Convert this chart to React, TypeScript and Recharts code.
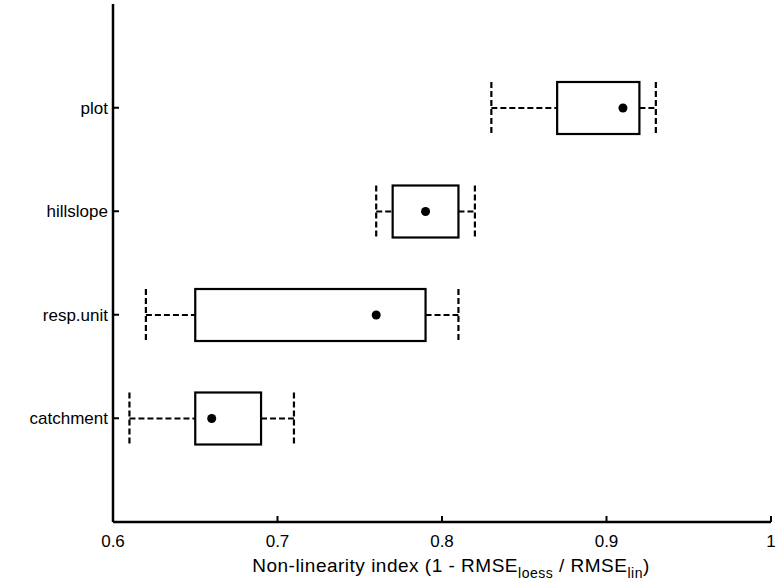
import { Bar, ComposedChart, XAxis, YAxis } from "recharts";

// Box-plot summary per scale, top to bottom.
const CATEGORIES = ["plot", "hillslope", "resp.unit", "catchment"];
const WHISKER_LOW = [0.83, 0.76, 0.62, 0.61];
const Q1 = [0.87, 0.77, 0.65, 0.65];
const MEDIAN = [0.91, 0.79, 0.76, 0.66];
const Q3 = [0.92, 0.81, 0.79, 0.69];
const WHISKER_HIGH = [0.93, 0.82, 0.81, 0.71];
const X_TICKS = [0.6, 0.7, 0.8, 0.9, 1];

const FONT = "'Liberation Sans', Arial, sans-serif";

type Row = {
  name: string;
  lo: number;
  q1: number;
  med: number;
  q3: number;
  hi: number;
};

const data: Row[] = CATEGORIES.map((name, i) => ({
  name,
  lo: WHISKER_LOW[i],
  q1: Q1[i],
  med: MEDIAN[i],
  q3: Q3[i],
  hi: WHISKER_HIGH[i],
}));

// The bar spans [lo, hi]; inner positions are interpolated on that span,
// which is linear, so it matches the x scale exactly.
function BoxShape(props: any) {
  const { x, y, width, height, payload } = props;
  const p = payload as Row;
  const left = Math.min(x, x + width);
  const w = Math.abs(width);
  const px = (v: number) => left + ((v - p.lo) / (p.hi - p.lo)) * w;
  const cy = y + height / 2;
  const dash = { stroke: "#000", strokeWidth: 2.2, strokeDasharray: "6 3" };
  return (
    <g>
      <line x1={px(p.lo)} x2={px(p.q1)} y1={cy} y2={cy} {...dash} />
      <line x1={px(p.q3)} x2={px(p.hi)} y1={cy} y2={cy} {...dash} />
      <line x1={px(p.lo)} x2={px(p.lo)} y1={y} y2={y + height} {...dash} />
      <line x1={px(p.hi)} x2={px(p.hi)} y1={y} y2={y + height} {...dash} />
      <rect
        x={px(p.q1)}
        y={y}
        width={px(p.q3) - px(p.q1)}
        height={height}
        fill="#fff"
        stroke="#000"
        strokeWidth={2.2}
      />
      <circle cx={px(p.med)} cy={cy} r={4.5} fill="#000" />
    </g>
  );
}

function XTick({ x, y, payload }: any) {
  return (
    <g>
      <line x1={x} x2={x} y1={y} y2={y - 6} stroke="#000" strokeWidth={2} />
      <text
        x={x}
        y={y + 25}
        textAnchor="middle"
        fontSize={17}
        fontFamily={FONT}
        fill="#000"
      >
        {String(payload.value)}
      </text>
    </g>
  );
}

function YTick({ x, y, payload }: any) {
  return (
    <g>
      <line x1={x} x2={x + 6} y1={y} y2={y} stroke="#000" strokeWidth={2} />
      <text
        x={x - 5}
        y={y + 6}
        textAnchor="end"
        fontSize={17}
        fontFamily={FONT}
        fill="#000"
      >
        {payload.value}
      </text>
    </g>
  );
}

function XTitle({ viewBox }: any) {
  const cx = viewBox.x + viewBox.width / 2 + 9;
  const base = viewBox.y + 50;
  return (
    <text
      x={cx}
      y={base}
      textAnchor="middle"
      fontSize={19}
      letterSpacing={0.5}
      fontFamily={FONT}
      fill="#000"
    >
      Non-linearity index (1 - RMSE
      <tspan fontSize={14} dy={6}>
        loess
      </tspan>
      <tspan dy={-6}> / RMSE</tspan>
      <tspan fontSize={14} dy={6}>
        lin
      </tspan>
      <tspan dy={-6}>)</tspan>
    </text>
  );
}

export default function App() {
  return (
    <div style={{ position: "absolute", left: 0, top: 0, background: "#fff" }}>
      <ComposedChart
        width={776}
        height={580}
        data={data}
        layout="vertical"
        margin={{ top: 4, right: 5, bottom: 0, left: 0 }}
      >
        <XAxis
          type="number"
          domain={[0.6, 1]}
          ticks={X_TICKS}
          allowDataOverflow
          height={58}
          tickSize={0}
          tickMargin={0}
          axisLine={{ stroke: "#000", strokeWidth: 2.5 }}
          tick={<XTick />}
          label={{ content: (p: any) => <XTitle {...p} /> }}
        />
        <YAxis
          type="category"
          dataKey="name"
          width={113}
          padding={{ top: 52, bottom: 52 }}
          tickSize={0}
          tickMargin={0}
          axisLine={{ stroke: "#000", strokeWidth: 2.5 }}
          tick={<YTick />}
        />
        <Bar
          dataKey={(d: Row) => [d.lo, d.hi]}
          barSize={52}
          shape={<BoxShape />}
          isAnimationActive={false}
        />
      </ComposedChart>
    </div>
  );
}
